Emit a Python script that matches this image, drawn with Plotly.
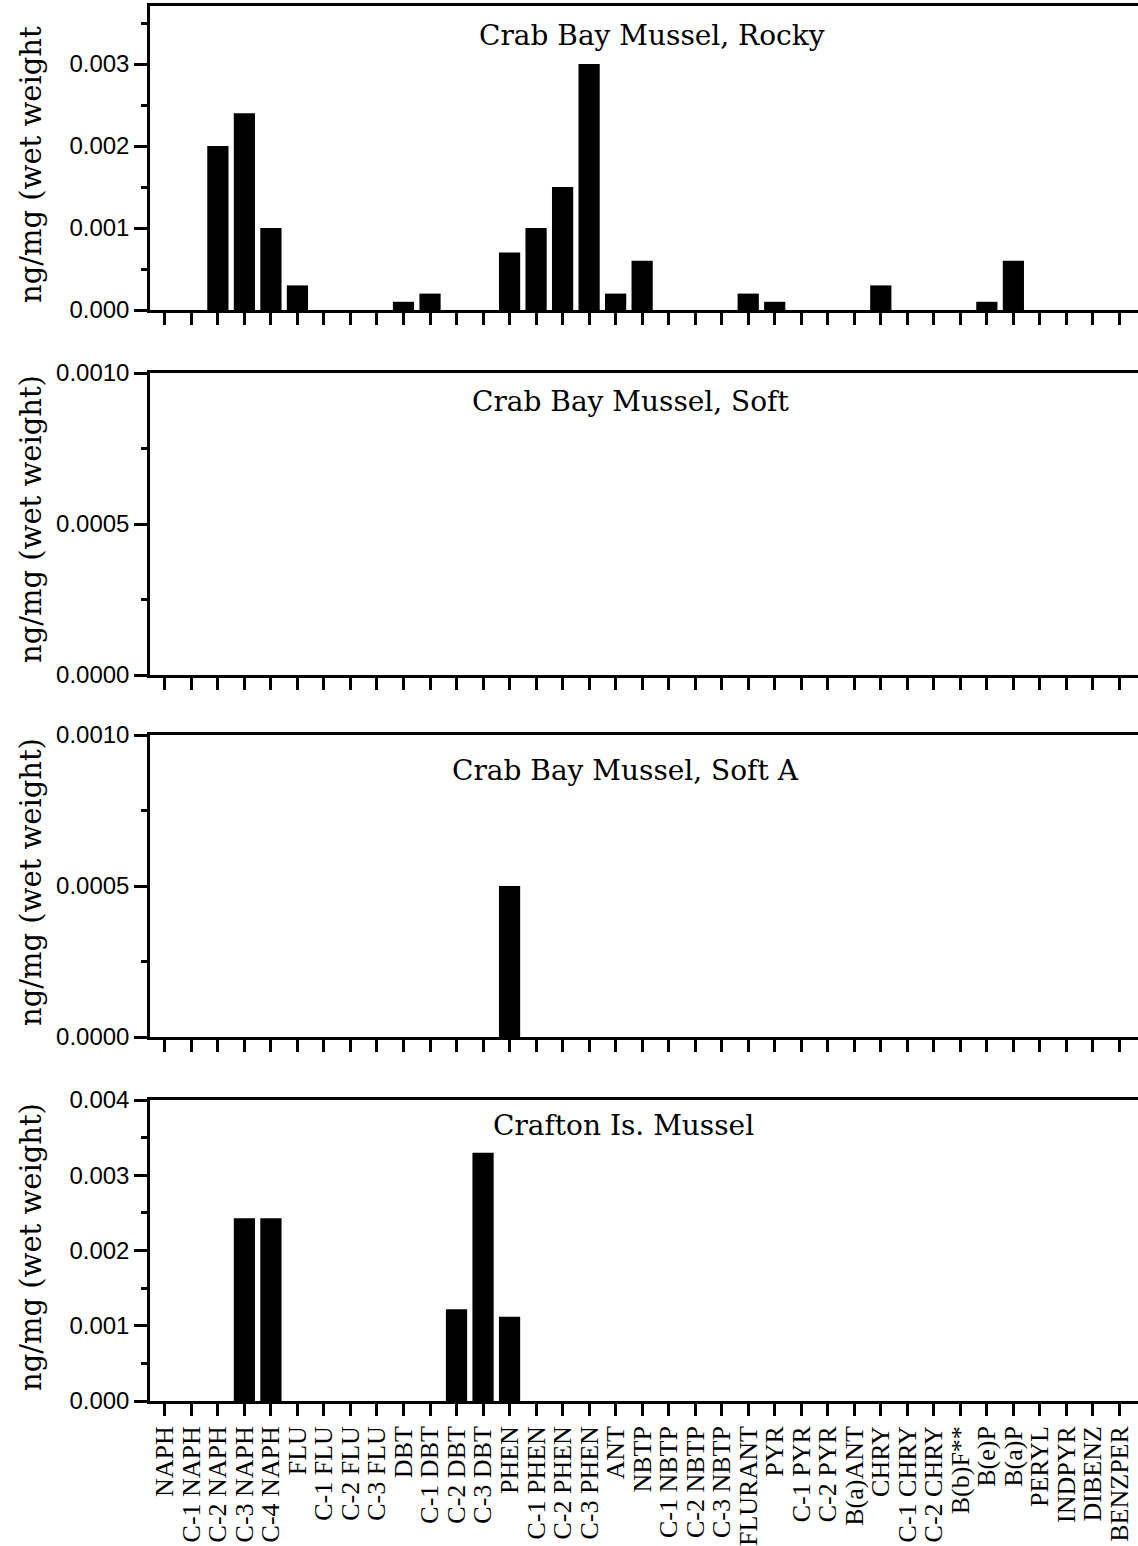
import plotly.graph_objects as go

categories = ["NAPH", "C-1 NAPH", "C-2 NAPH", "C-3 NAPH", "C-4 NAPH", "FLU", "C-1 FLU",
              "C-2 FLU", "C-3 FLU", "DBT", "C-1 DBT", "C-2 DBT", "C-3 DBT", "PHEN",
              "C-1 PHEN", "C-2 PHEN", "C-3 PHEN", "ANT", "NBTP", "C-1 NBTP", "C-2 NBTP",
              "C-3 NBTP", "FLURANT", "PYR", "C-1 PYR", "C-2 PYR", "B(a)ANT", "CHRY",
              "C-1 CHRY", "C-2 CHRY", "B(b)F**", "B(e)P", "B(a)P", "PERYL", "INDPYR",
              "DIBENZ", "BENZPER"]

rocky = [0, 0, 0.0020, 0.0024, 0.0010, 0.0003, 0, 0, 0, 0.0001, 0.0002, 0, 0,
         0.0007, 0.0010, 0.0015, 0.0030, 0.0002, 0.0006, 0, 0, 0, 0.0002, 0.0001,
         0, 0, 0, 0.0003, 0, 0, 0, 0.0001, 0.0006, 0, 0, 0, 0]
soft = [0, 0, 0, 0, 0, 0, 0, 0, 0, 0, 0, 0, 0, 0, 0, 0, 0, 0, 0, 0, 0, 0, 0, 0,
        0, 0, 0, 0, 0, 0, 0, 0, 0, 0, 0, 0, 0]
soft_a = [0, 0, 0, 0, 0, 0, 0, 0, 0, 0, 0, 0, 0, 0.0005, 0, 0, 0, 0, 0, 0, 0, 0,
          0, 0, 0, 0, 0, 0, 0, 0, 0, 0, 0, 0, 0, 0, 0]
crafton = [0, 0, 0, 0.00243, 0.00243, 0, 0, 0, 0, 0, 0, 0.00122, 0.0033, 0.00112,
           0, 0, 0, 0, 0, 0, 0, 0, 0, 0, 0, 0, 0, 0, 0, 0, 0, 0, 0, 0, 0, 0, 0]

panel_titles = ["Crab Bay Mussel, Rocky", "Crab Bay Mussel, Soft",
                "Crab Bay Mussel, Soft A", "Crafton Is. Mussel"]
y_titles = ["ng/mg (wet weight", "ng/mg (wet weight)", "ng/mg (wet weight)",
            "ng/mg (wet weight)"]
series = [rocky, soft, soft_a, crafton]

W, H = 1138, 1546
ML, MR, MT, MB = 150, 0, 6, 145
PW = W - ML - MR
PH = H - MT - MB


def py(p):
    return (H - MB - p) / PH


def px(p):
    return (p - ML) / PW


# panel pixel extents (top, bottom)
panels_px = [(6, 310), (373, 675), (735, 1037), (1100, 1401)]
y_ranges = [[0, 0.003 * 304 / 246], [0, 0.0010], [0, 0.0010], [0, 0.004]]
y_dticks = [0.001, 0.0005, 0.0005, 0.001]
y_minor = [0.0005, 0.00025, 0.00025, 0.0005]
y_fmt = [".3f", ".4f", ".4f", ".3f"]
title_pos = [(652, 35), (630, 401), (625, 771), (623, 1125)]
ytitle_center = [165, 519, 882, 1247]

fig = go.Figure()
annotations = []

for i, vals in enumerate(series):
    n = "" if i == 0 else str(i + 1)
    fig.add_trace(go.Bar(x=categories, y=vals, marker=dict(color="black", line=dict(width=0)),
                         xaxis="x" + n, yaxis="y" + n, showlegend=False))
    top, bot = panels_px[i]
    fig.layout["xaxis" + n] = dict(
        domain=[0, 1], anchor="y" + n, type="category",
        categoryorder="array", categoryarray=categories,
        tickmode="array", tickvals=categories, ticktext=categories,
        range=[-0.56, 36.7], showline=True, linecolor="black", linewidth=2.5,
        mirror=True, ticks="outside", ticklen=12, tickwidth=2.5, tickcolor="black",
        showgrid=False, zeroline=False, showticklabels=(i == 3), tickangle=-90,
        tickfont=dict(family="Liberation Serif", size=26, color="black"),
        automargin=False,
    )
    fig.layout["yaxis" + n] = dict(
        domain=[py(bot), py(top)], anchor="x" + n, range=y_ranges[i],
        tick0=0, dtick=y_dticks[i], tickformat=y_fmt[i],
        showline=True, linecolor="black", linewidth=2.5, mirror=False,
        ticks="outside", ticklen=13, tickwidth=2.5, tickcolor="black",
        minor=dict(ticks="outside", ticklen=6, tickwidth=2.5, tickcolor="black",
                   dtick=y_minor[i], tick0=0),
        showgrid=False, zeroline=False, automargin=False,
        tickfont=dict(family="Liberation Sans", size=24, color="black"),
    )
    tx, ty = title_pos[i]
    annotations.append(dict(text=panel_titles[i], xref="paper", yref="paper",
                            x=px(tx), y=py(ty), xanchor="center", yanchor="middle",
                            showarrow=False,
                            font=dict(family="DejaVu Serif", size=28, color="black")))
    annotations.append(dict(text=y_titles[i], xref="paper", yref="paper",
                            x=px(31), y=py(ytitle_center[i]), xanchor="center",
                            yanchor="middle", textangle=-90, showarrow=False,
                            font=dict(family="DejaVu Serif", size=29, color="black")))

fig.update_layout(
    width=W, height=H, margin=dict(l=ML, r=MR, t=MT, b=MB, pad=0),
    paper_bgcolor="white", plot_bgcolor="white", bargap=0.2,
    annotations=annotations, showlegend=False,
)

fig.write_html("out.html")
